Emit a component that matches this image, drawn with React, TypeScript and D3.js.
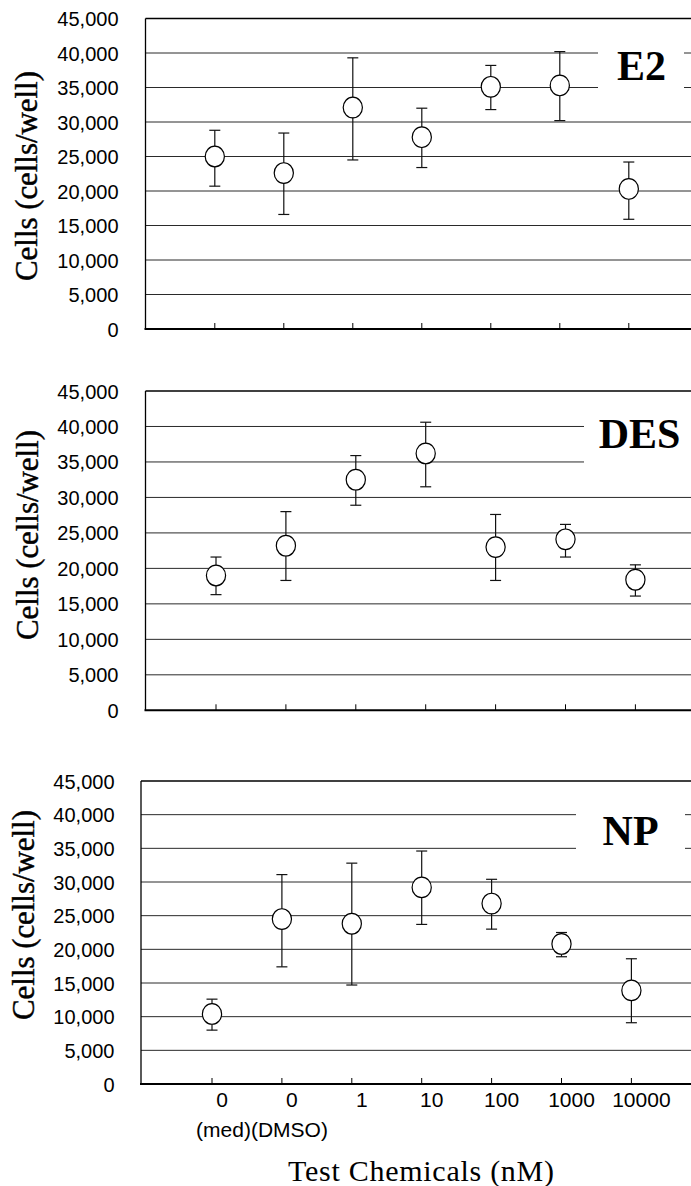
import React from "react";
import * as d3 from "d3";

// ---- data ----
const categories = ["0", "0", "1", "10", "100", "1000", "10000"];
const subLabel = "(med)(DMSO)";
const yTicks = [0, 5000, 10000, 15000, 20000, 25000, 30000, 35000, 40000, 45000];

const e2Mean = [25000, 22600, 32100, 27800, 35100, 35300, 20300];
const e2Upper = [28800, 28400, 39300, 32000, 38200, 40200, 24200];
const e2Lower = [20700, 16600, 24500, 23400, 31800, 30200, 15900];

const desMean = [19000, 23200, 32500, 36200, 23000, 24100, 18400];
const desUpper = [21600, 28000, 35900, 40600, 27600, 26200, 20500];
const desLower = [16300, 18300, 28900, 31500, 18300, 21600, 16100];

const npMean = [10400, 24500, 23800, 29200, 26800, 20800, 13900];
const npUpper = [12600, 31100, 32800, 34600, 30400, 22500, 18600];
const npLower = [8000, 17400, 14700, 23700, 23000, 18900, 9100];

const SANS = "'Liberation Sans', Arial, sans-serif";
const SERIF = "'Liberation Serif', 'Times New Roman', 'DejaVu Serif', serif";

type PanelProps = {
  name: string;
  mean: number[];
  upper: number[];
  lower: number[];
  left: number;
  top: number;
  bottom: number;
  firstTick: number;
  step: number;
  labelRight: number;
  titleX: number;
  titleY: number;
  nameX: number;
  nameY: number;
  gapStart: number;
  gapEnd: number;
  showX?: boolean;
};

function Panel(p: PanelProps) {
  const y = d3.scaleLinear().domain([0, 45000]).range([p.bottom, p.top]);
  const x = d3
    .scaleLinear()
    .domain([0, categories.length - 1])
    .range([p.firstTick, p.firstTick + p.step * (categories.length - 1)]);
  const right = 691;
  const fmt = d3.format(",");
  return (
    <g>
      {yTicks
        .filter((t) => t > 0 && t < 45000)
        .map((t) => (
          <line key={t} x1={p.left} x2={right} y1={y(t)} y2={y(t)} stroke="#2a2a2a" strokeWidth={1} />
        ))}
      <rect x={p.gapStart} y={y(44000)} width={p.gapEnd - p.gapStart} height={y(31000) - y(44000)} fill="#fff" />
      <line x1={p.left} x2={right} y1={p.top} y2={p.top} stroke="#000" strokeWidth={1.5} />
      <line x1={p.left} x2={p.left} y1={p.top} y2={p.bottom} stroke="#000" strokeWidth={1.3} />
      <line x1={p.left - 1} x2={right} y1={p.bottom} y2={p.bottom} stroke="#000" strokeWidth={2} />
      {categories.map((c, i) => (
        <line key={"t" + i} x1={x(i)} x2={x(i)} y1={p.bottom} y2={p.bottom - 6} stroke="#000" strokeWidth={1} />
      ))}
      {yTicks.map((t) => (
        <text key={"l" + t} x={p.labelRight} y={y(t) + 7.5} textAnchor="end" fontFamily={SANS} fontSize={20} fill="#000">
          {fmt(t)}
        </text>
      ))}
      <text
        transform={`translate(${p.titleX},${p.titleY}) rotate(-90)`}
        textAnchor="middle"
        fontFamily={SERIF}
        fontSize={31}
        textLength={210}
        lengthAdjust="spacing"
        fill="#000"
        stroke="#000"
        strokeWidth={0.4}
      >
        Cells (cells/well)
      </text>
      <text x={p.nameX} y={p.nameY} textAnchor="middle" fontFamily={SERIF} fontWeight="bold" fontSize={42} fill="#000">
        {p.name}
      </text>
      {p.mean.map((m, i) => (
        <g key={"p" + i}>
          <line x1={x(i)} x2={x(i)} y1={y(p.upper[i])} y2={y(p.lower[i])} stroke="#111" strokeWidth={1.2} />
          <line x1={x(i) - 5.5} x2={x(i) + 5.5} y1={y(p.upper[i])} y2={y(p.upper[i])} stroke="#111" strokeWidth={1.2} />
          <line x1={x(i) - 5.5} x2={x(i) + 5.5} y1={y(p.lower[i])} y2={y(p.lower[i])} stroke="#111" strokeWidth={1.2} />
          <ellipse cx={x(i)} cy={y(m)} rx={9.6} ry={10.3} fill="#fff" stroke="#000" strokeWidth={1.2} />
        </g>
      ))}
      {p.showX &&
        categories.map((c, i) => (
          <text key={"x" + i} x={x(i) + 10} y={p.bottom + 22.5} textAnchor="middle" fontFamily={SANS} fontSize={21} fill="#000">
            {c}
          </text>
        ))}
    </g>
  );
}

export default function App() {
  return (
    <svg width={691} height={1186} style={{ position: "absolute", left: 0, top: 0, background: "#fff" }}>
      <rect width={691} height={1186} fill="#fff" />
      <Panel
        name="E2"
        mean={e2Mean}
        upper={e2Upper}
        lower={e2Lower}
        left={145.5}
        top={18.5}
        bottom={329}
        firstTick={214.8}
        step={69}
        labelRight={118.5}
        titleX={37}
        titleY={176}
        nameX={641.5}
        nameY={80}
        gapStart={598}
        gapEnd={684}
      />
      <Panel
        name="DES"
        mean={desMean}
        upper={desUpper}
        lower={desLower}
        left={145.5}
        top={391}
        bottom={710.3}
        firstTick={216}
        step={69.9}
        labelRight={118.5}
        titleX={38}
        titleY={535}
        nameX={639.5}
        nameY={448}
        gapStart={584}
        gapEnd={700}
      />
      <Panel
        name="NP"
        mean={npMean}
        upper={npUpper}
        lower={npLower}
        left={141}
        top={781}
        bottom={1084}
        firstTick={212}
        step={69.9}
        labelRight={114.5}
        titleX={34}
        titleY={915}
        nameX={630.6}
        nameY={845}
        gapStart={576}
        gapEnd={685}
        showX
      />
      <text x={262} y={1137} textAnchor="middle" fontFamily={SANS} fontSize={21} fill="#000">
        {subLabel}
      </text>
      <text x={421} y={1181} textAnchor="middle" fontFamily={SERIF} fontSize={30} textLength={266} lengthAdjust="spacing" fill="#000">
        Test Chemicals (nM)
      </text>
    </svg>
  );
}
